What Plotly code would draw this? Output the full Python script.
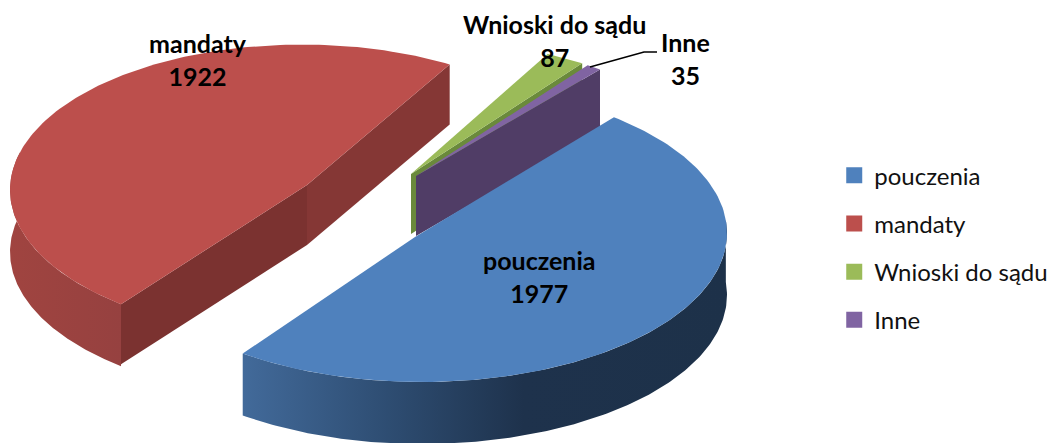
import numpy as np
import plotly.graph_objects as go

# Data
categories = ["pouczenia", "mandaty", "Wnioski do sądu", "Inne"]
values = [1977, 1922, 87, 35]
top_colors = ["#4F81BD", "#BC4F4C", "#9BBB59", "#8064A2"]

# Projection of each exploded slice (layout only, in pixel-like axis units)
TOTAL = sum(values)
sweeps = [v / TOTAL * 360 for v in values]
DEPTH = 60
geom = {
    "pouczenia": dict(apex=(415, 237), c=(422, 233), a=305, b=149, start=39.0),
    "mandaty": dict(apex=(307, 185), c=(302, 190), a=292, b=145.5, start=218.3),
    "Wnioski do sądu": dict(apex=(411, 174), c=(411, 174), a=300, b=135, start=27.0),
    "Inne": dict(apex=(416, 176), c=(416, 176), a=300, b=135, start=34.7),
}
LABEL_POS = {
    "pouczenia": (539, 276),
    "mandaty": (198, 59),
    "Wnioski do sądu": (554, 40),
    "Inne": (685, 58),
}
sweep_of = dict(zip(categories, sweeps))
color_of = dict(zip(categories, top_colors))


def rim(name, t0=None, t1=None):
    g = geom[name]
    s0 = g["start"] if t0 is None else t0
    s1 = g["start"] + sweep_of[name] if t1 is None else t1
    t = np.radians(np.linspace(s0, s1, 160))
    return g["c"][0] + g["a"] * np.sin(t), g["c"][1] - g["b"] * np.cos(t)


def poly(fig, xs, ys, color=None, gradient=None):
    kw = dict(fillgradient=gradient) if gradient else dict(fillcolor=color)
    fig.add_trace(go.Scatter(x=list(xs), y=list(ys), mode="lines", fill="toself",
                             line=dict(width=0), showlegend=False, hoverinfo="skip", **kw))


def top(fig, name):
    g = geom[name]
    x, y = rim(name)
    poly(fig, [g["apex"][0], *x, g["apex"][0]], [g["apex"][1], *y, g["apex"][1]], color_of[name])


def face(fig, name, rx, ry, color):
    ax, ay = geom[name]["apex"]
    poly(fig, [ax, rx, rx, ax, ax], [ay, ry, ry + DEPTH, ay + DEPTH, ay], color)


def band(fig, name, t0, t1, gradient):
    x, y = rim(name, t0, t1)
    poly(fig, [*x, *x[::-1], x[0]], [*y, *(y[::-1] + DEPTH + 2), y[0]], gradient=gradient)


fig = go.Figure()

# mandaty
x, y = rim("mandaty")
face(fig, "mandaty", x[-1], y[-1], "#853735")
band(fig, "mandaty", geom["mandaty"]["start"], 285,
     dict(type="horizontal", colorscale=[[0, "#A04440"], [1, "#964140"]]))
face(fig, "mandaty", x[0], y[0], "#7B3230")
top(fig, "mandaty")

# Wnioski do sądu
x, y = rim("Wnioski do sądu")
face(fig, "Wnioski do sądu", x[-1], y[-1], "#6A8A3B")
top(fig, "Wnioski do sądu")

# Inne
x, y = rim("Inne")
face(fig, "Inne", x[-1], y[-1], "#503D66")
top(fig, "Inne")

# pouczenia
g = geom["pouczenia"]
band(fig, "pouczenia", 85, g["start"] + sweep_of["pouczenia"],
     dict(type="horizontal",
          colorscale=[[0, "#426A9A"], [0.3, "#2E4D72"], [0.58, "#1E324C"], [1, "#1D3149"]]))
top(fig, "pouczenia")

# leader line of "Inne"
fig.add_trace(go.Scatter(x=[590, 644, 657], y=[67, 52, 52], mode="lines",
                         line=dict(color="black", width=1.5), showlegend=False, hoverinfo="skip"))

# legend entries
for name in categories:
    fig.add_trace(go.Scatter(x=[None], y=[None], mode="markers", name=name, legendgroup=name,
                             marker=dict(symbol="square", size=16, color=color_of[name])))

for name, value in zip(categories, values):
    px, py = LABEL_POS[name]
    fig.add_annotation(x=px, y=py, xref="x", yref="y", text=f"<b>{name}<br>{value}</b>",
                       showarrow=False, align="center",
                       font=dict(family="Lato", size=25, color="black"))

fig.update_layout(
    width=1054, height=443, margin=dict(l=0, r=0, t=0, b=0, autoexpand=False),
    paper_bgcolor="white", plot_bgcolor="white",
    xaxis=dict(range=[0, 1054], visible=False, fixedrange=True),
    yaxis=dict(range=[443, 0], visible=False, fixedrange=True),
    legend=dict(x=0.7915, y=0.441, xanchor="left", yanchor="middle", tracegroupgap=14,
                itemwidth=30, font=dict(family="Lato", size=24, color="#111111"),
                bgcolor="rgba(0,0,0,0)"),
)
fig.write_html("out.html", post_script="document.body.style.margin='0';",
               config={"displayModeBar": False})
